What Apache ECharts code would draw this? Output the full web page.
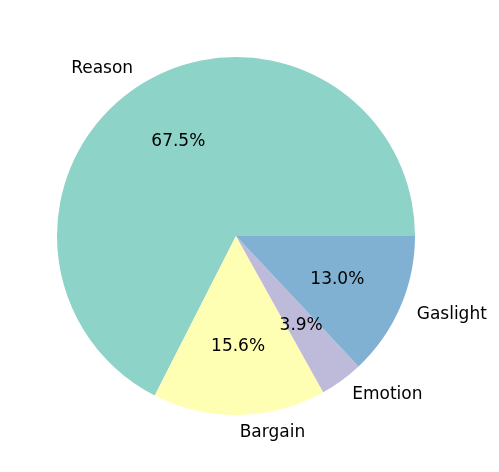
<!DOCTYPE html>
<html>
<head>
<meta charset="utf-8">
<script src="https://cdn.jsdelivr.net/npm/echarts@6/dist/echarts.min.js"></script>
<style>
  html, body { margin: 0; padding: 0; background: #fff; }
  #chart { width: 499px; height: 472px; }
</style>
</head>
<body>
<div id="chart"></div>
<script>
// slices, in matplotlib order (counter-clockwise from 3 o'clock)
var names  = ["Reason", "Bargain", "Emotion", "Gaslight"];
var values = [67.5, 15.6, 3.9, 13.0];
var colors = ["#8dd3c7", "#ffffb3", "#bebada", "#80b1d3"];

var cx = 236, cy = 236, R = 179;
var font = "DejaVu Sans";

var pieData = names.map(function (n, i) {
    return { name: n, value: values[i], itemStyle: { color: colors[i] } };
});
var ghostData = names.map(function (n, i) {
    return { name: n, value: values[i], itemStyle: { color: "rgba(0,0,0,0)" } };
});

var chart = echarts.init(document.getElementById("chart"));
chart.setOption({
    animation: false,
    series: [
        {
            // the pie itself, names outside at 1.1 r
            type: "pie",
            center: [cx, cy],
            radius: [0, R],
            startAngle: 0,
            clockwise: false,
            avoidLabelOverlap: false,
            silent: true,
            data: pieData,
            itemStyle: { borderWidth: 0 },
            label: {
                show: true,
                position: "outside",
                formatter: "{b}",
                fontFamily: font,
                fontSize: 17,
                color: "#000",
                distanceToLabelLine: 0
            },
            labelLine: { show: false, length: R * 0.1, length2: 0 }
        },
        {
            // invisible copy, radius 1.2 r so "inside" sits at 0.6 r
            type: "pie",
            center: [cx, cy],
            radius: [0, R * 1.2],
            startAngle: 0,
            clockwise: false,
            avoidLabelOverlap: false,
            silent: true,
            percentPrecision: 1,
            data: ghostData,
            itemStyle: { borderWidth: 0 },
            label: {
                show: true,
                position: "inside",
                formatter: function (p) { return p.percent.toFixed(1) + "%"; },
                fontFamily: font,
                fontSize: 17,
                color: "#000"
            },
            labelLine: { show: false }
        }
    ]
});
</script>
</body>
</html>
